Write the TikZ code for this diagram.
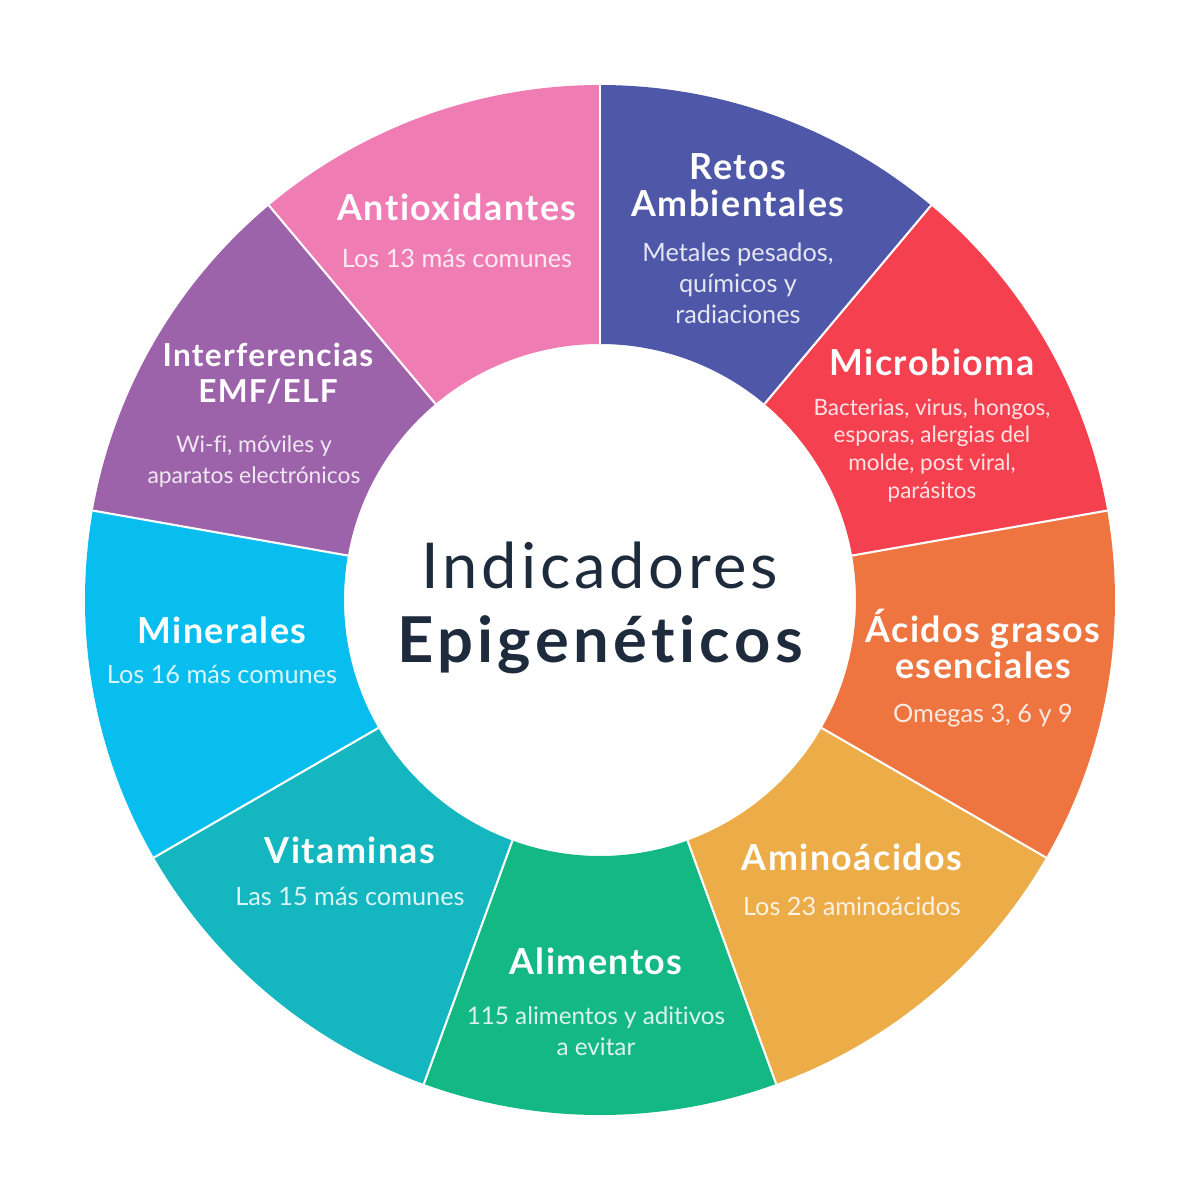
\documentclass[tikz,border=0pt]{standalone}
\usepackage{fontspec}
\setmainfont[Ligatures=NoCommon]{Lato}
\newfontfamily\headfont[LetterSpace=4, Ligatures=NoCommon]{Lato}
\newfontfamily\titlefont[LetterSpace=6, Ligatures=NoCommon]{Lato}
\newfontfamily\titleboldfont[LetterSpace=7, Ligatures=NoCommon]{Lato}
\usetikzlibrary{positioning}

\definecolor{retosblue}{HTML}{4F58A8}
\definecolor{antioxpink}{HTML}{F07CB4}
\definecolor{emfpurple}{HTML}{9C63AA}
\definecolor{mincyan}{HTML}{08BEEE}
\definecolor{vitteal}{HTML}{14B7C0}
\definecolor{alimgreen}{HTML}{14B882}
\definecolor{aminoamber}{HTML}{ECAC48}
\definecolor{acidorange}{HTML}{EE7440}
\definecolor{microred}{HTML}{F5404F}
\definecolor{centernavy}{HTML}{1E2B3C}

\begin{document}
\begin{tikzpicture}[
  head/.style={font=\headfont\fontsize{10.2}{10.5}\selectfont\bfseries, text=white,
               align=center, inner sep=0pt},
  sub/.style={font=\fontsize{7.2}{8.8}\selectfont, text=white, text opacity=0.85,
              align=center, inner sep=0pt},
  sep/.style={white, line width=0.6pt},
  title/.style={font=\titlefont\fontsize{18}{20}\selectfont, text=centernavy,
                anchor=base, inner sep=0pt},
]
  \useasboundingbox (-6,-6) rectangle (6,6);
  % ring segments, 40 degrees each
  \foreach \a/\col [evaluate=\a as \b using \a+40] in {50/retosblue, 90/antioxpink,
      130/emfpurple, 170/mincyan, 210/vitteal, 250/alimgreen, 290/aminoamber,
      330/acidorange, 370/microred}
    \fill[\col] (\a:2.56) -- (\a:5.15) arc[start angle=\a, end angle=\b, radius=5.15]
      -- (\b:2.56) arc[start angle=\b, end angle=\a, radius=2.56] -- cycle;
  \foreach \a in {10,50,...,330}
    \draw[sep] (\a:2.56) -- (\a:5.15);

  % centre
  \node[title] (ind) at (0,0.12) {Indicadores};
  \node[title, font=\titleboldfont\fontsize{18}{20}\selectfont\bfseries] (epi) at (0,-0.62) {Epigenéticos};

  % labels
  \node[head] (retos) at (1.38,4.145) {Retos\\Ambientales};
  \node[sub] (retossub) at (1.38,3.17) {Metales pesados,\\químicos y\\radiaciones};
  \node[head] (antiox) at (-1.43,3.93) {Antioxidantes};
  \node[sub] (antioxsub) at (-1.43,3.42) {Los 13 más comunes};
  \node[head, font=\headfont\fontsize{9.0}{10.5}\selectfont\bfseries] (emf) at (-3.32,2.265) {Interferencias\\EMF/ELF};
  \node[sub, font=\fontsize{6.5}{8.8}\selectfont] (emfsub) at (-3.46,1.385) {Wi-fi, móviles y\\aparatos electrónicos};
  \node[head] (miner) at (-3.78,-0.30) {Minerales};
  \node[sub] (minersub) at (-3.78,-0.74) {Los 16 más comunes};
  \node[head] (vitam) at (-2.5,-2.5) {Vitaminas};
  \node[sub] (vitamsub) at (-2.5,-2.96) {Las 15 más comunes};
  \node[head] (alim) at (-0.04,-3.61) {Alimentos};
  \node[sub, font=\fontsize{6.9}{8.8}\selectfont] (alimsub) at (-0.04,-4.315) {115 alimentos y aditivos\\a evitar};
  \node[head] (amino) at (2.52,-2.57) {Aminoácidos};
  \node[sub] (aminosub) at (2.52,-3.06) {Los 23 aminoácidos};
  \node[head] (acidos) at (3.83,-0.44) {Ácidos grasos\\esenciales};
  \node[sub] (acidossub) at (3.83,-1.16) {Omegas 3, 6 y 9};
  \node[head] (micro) at (3.32,2.38) {Microbioma};
  \node[sub, font=\fontsize{6.4}{7.9}\selectfont] (microsub) at (3.32,1.495) {Bacterias, virus, hongos,\\esporas, alergias del\\molde, post viral,\\parásitos};
\end{tikzpicture}
\end{document}
